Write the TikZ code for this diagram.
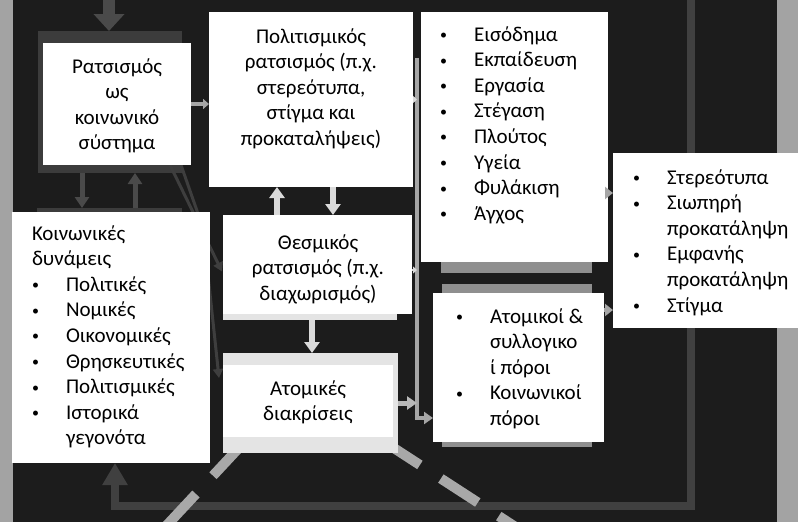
\documentclass[tikz,border=0pt]{standalone}
\usepackage{fontspec}
\setmainfont{Carlito}
\usetikzlibrary{arrows.meta,calc}
\definecolor{bgc}{HTML}{1C1C1C}
\definecolor{stripc}{HTML}{A3A3A3}
\definecolor{framec}{HTML}{404040}
\definecolor{darkc}{HTML}{4A4A4A}
\definecolor{backc}{HTML}{3C3C3C}
\definecolor{diagc}{HTML}{3E3E3E}
\definecolor{midc}{HTML}{8F8F8F}
\definecolor{lightc}{HTML}{DADADA}
\definecolor{busc}{HTML}{A6A6A6}
\definecolor{dashc}{HTML}{A8A8A8}
\definecolor{paleback}{HTML}{E4E4E4}
\pgfdeclarelayer{base}
\pgfdeclarelayer{mid}
\pgfsetlayers{base,mid,main}
\newcommand\blt{\makebox[34pt][l]{\raisebox{1.5pt}{\fontsize{14}{14}\selectfont •}}}
\tikzset{
  rect/.style={draw=none, inner sep=0pt, outer sep=0pt},
  wbox/.style={rect, fill=white},
  pale/.style={rect, fill=paleback},
  txt/.style={inner sep=0pt, outer sep=0pt, font=\fontsize{21}{25.6}\selectfont},
  bigdark/.style={draw=darkc, line width=12pt, -{Triangle[width=30pt,length=17pt]}},
  framel/.style={draw=framec, line width=8pt, -{Triangle[width=24pt,length=22pt]}},
  darkarrow/.style={draw=darkc, line width=5pt, -{Triangle[width=14pt,length=11pt]}},
  diag/.style={draw=diagc, line width=3pt, -{Triangle[width=10pt,length=9pt]}},
  lightarrow/.style={draw=lightc, line width=6pt, -{Triangle[width=15pt,length=11pt]}},
  thinarrow/.style={draw=busc, line width=4pt, -{Triangle[width=10pt,length=6pt]}},
  busl/.style={draw=busc, line width=4pt},
  tickarrow/.style={draw=lightc, line width=2pt, -{Triangle[width=7pt,length=4pt]}},
  medarrow/.style={draw=lightc!85!black, line width=5pt, -{Triangle[width=13pt,length=10pt]}},
  grayarrow/.style={draw=busc, line width=4pt, -{Triangle[width=12pt,length=8pt]}},
  dashln/.style={draw=dashc, line width=10pt, dash pattern=on 44pt off 25pt, line cap=butt}
}
\begin{document}
\begin{tikzpicture}[x=1pt,y=-1pt]
\useasboundingbox (0,0) rectangle (798,522);
\clip (0,0) rectangle (798,522);
% named coordinates
\coordinate (frtop) at (691,0);
\coordinate (frc1) at (691,506);
\coordinate (frc2) at (115,506);
\coordinate (topin) at (109,0);
\coordinate (x82) at (82,0);
\coordinate (x135) at (135,0);
\coordinate (x277) at (277,0);
\coordinate (x333) at (333,0);
\coordinate (x312) at (312,0);
\coordinate (bustop) at (417,58);
\coordinate (buscorner) at (417,418);
\coordinate (y193) at (0,193);
\coordinate (y270) at (0,270);
\coordinate (y310) at (0,310);
\coordinate (dla) at (243,443.5);
\coordinate (dlb) at (140,554);
\coordinate (dra) at (383,441);
\coordinate (drb) at (551,550);
\coordinate (bendb) at (203,228);

\begin{pgfonlayer}{base}
\fill[bgc] (0,0) rectangle (798,522);
\fill[stripc] (0,0) rectangle (13,522);
\fill[stripc] (777,0) rectangle (798,522);
\node[rect, fill=backc, minimum width=144pt, minimum height=142pt] (b1back) at (110,102) {};
\node[rect, fill=backc, minimum width=145pt, minimum height=252pt] (b8back) at (109.5,334) {};
\node[rect, fill=midc, minimum width=151pt, minimum height=253pt] (b3back) at (516.5,146.5) {};
\node[rect, fill=midc, minimum width=150pt, minimum height=163pt] (b4back) at (517,365.5) {};
\end{pgfonlayer}

% boxes
\node[wbox, minimum width=148pt, minimum height=122pt] (b1) at (117,104) {};
\node[wbox, minimum width=204pt, minimum height=175pt] (b2) at (311,99.5) {};
\node[wbox, minimum width=187pt, minimum height=250pt] (b3) at (514.5,137) {};
\node[wbox, minimum width=171pt, minimum height=149pt] (b4) at (518.5,367.5) {};
\node[wbox, minimum width=185pt, minimum height=175pt] (b5) at (705.5,240.5) {};
\node[pale, minimum width=174pt, minimum height=105pt] (b6back) at (310,267.5) {};
\node[wbox, minimum width=189pt, minimum height=99pt] (b6) at (317.5,264.5) {};
\node[pale, minimum width=175pt, minimum height=100pt] (b7back) at (310.5,403) {};
\node[wbox, minimum width=170pt, minimum height=72pt] (b7) at (308,401) {};
\node[wbox, minimum width=198pt, minimum height=251pt] (b8) at (111,337.5) {};

% texts
\node[txt, anchor=base] (t1) at (117,73) {\begin{tabular}[t]{@{}c@{}}Ρατσισμός\\ως\\κοινωνικό\\σύστημα\end{tabular}};
\node[txt, anchor=base] (t2) at (311,43) {\begin{tabular}[t]{@{}c@{}}Πολιτισμικός\\ρατσισμός (π.χ.\\στερεότυπα,\\στίγμα και\\προκαταλήψεις)\end{tabular}};
\node[txt, anchor=base west] (t3) at (440,41) {\begin{tabular}[t]{@{}l@{}}\blt Εισόδημα\\\blt Εκπαίδευση\\\blt Εργασία\\\blt Στέγαση\\\blt Πλούτος\\\blt Υγεία\\\blt Φυλάκιση\\\blt Άγχος\end{tabular}};
\node[txt, anchor=base west] (t4) at (456,323) {\begin{tabular}[t]{@{}l@{}}\blt Ατομικοί \&\\\hspace*{34pt}συλλογικο\\\hspace*{34pt}ί πόροι\\\blt Κοινωνικοί\\\hspace*{34pt}πόροι\end{tabular}};
\node[txt, anchor=base west] (t5) at (633,184) {\begin{tabular}[t]{@{}l@{}}\blt Στερεότυπα\\\blt Σιωπηρή\\\hspace*{34pt}προκατάληψη\\\blt Εμφανής\\\hspace*{34pt}προκατάληψη\\\blt Στίγμα\end{tabular}};
\node[txt, anchor=base] (t6) at (318,249) {\begin{tabular}[t]{@{}c@{}}Θεσμικός\\ρατσισμός (π.χ.\\διαχωρισμός)\end{tabular}};
\node[txt, anchor=base] (t7) at (308,395) {\begin{tabular}[t]{@{}c@{}}Ατομικές\\διακρίσεις\end{tabular}};
\node[txt, anchor=base west] (t8) at (32,240) {\begin{tabular}[t]{@{}l@{}}Κοινωνικές\\δυνάμεις\\\blt Πολιτικές\\\blt Νομικές\\\blt Οικονομικές\\\blt Θρησκευτικές\\\blt Πολιτισμικές\\\blt Ιστορικά\\\hspace*{34pt}γεγονότα\end{tabular}};

% dark background connectors
\begin{pgfonlayer}{base}
\draw[bigdark] (topin) -- (topin |- b1back.north);
\draw[framel] (frtop) -- (frc1) -- (frc2) -- (frc2 |- b8.south);
\draw[darkarrow] (b1back.south -| x82) -- (b8back.north -| x82);
\draw[darkarrow] (b8back.north -| x135) -- (b1back.south -| x135);
\end{pgfonlayer}

% lines behind boxes
\begin{pgfonlayer}{mid}
\draw[diag] ($(b1.south)+(53,0)$) -- ($(b6.west)+(-1,7)$);
\draw[diag] ($(b1.south)+(64,0)$) -- (bendb) -- ($(b7back.west)+(-4,-25)$);
\draw[dashln] (dla) -- (dlb);
\draw[dashln] (dra) -- (drb);
\end{pgfonlayer}

% light connectors
\draw[thinarrow] (b1.east) -- (b1.east -| b2.west);
\draw[lightarrow] (b2.south -| x333) -- (b6.north -| x333);
\draw[lightarrow] (b6.north -| x277) -- (b2.south -| x277);
\draw[lightarrow] (b6back.south -| x312) -- (b7back.north -| x312);
\draw[busl, -{Triangle[width=12pt,length=9pt]}] (bustop) -- (buscorner) -- (buscorner -| b4.west);
\draw[tickarrow] (b2.east) -- (b2.east -| bustop);
\draw[tickarrow] (b6.east |- y270) -- (bustop |- y270);
\draw[medarrow] (b7back.east) -- (b7back.east -| bustop);
\draw[grayarrow] (b3.east |- y193) -- (b5.west |- y193);
\draw[grayarrow] (b4.east |- y310) -- (b5.west |- y310);
\end{tikzpicture}
\end{document}
